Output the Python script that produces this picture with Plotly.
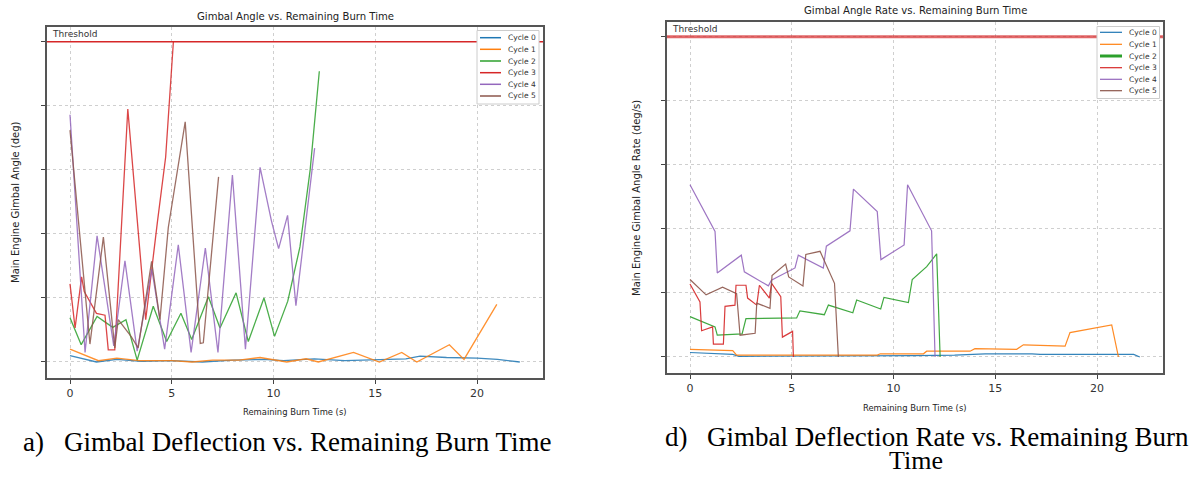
import plotly.graph_objects as go

W, H = 1194, 477

# ---------------- data: left panel (gimbal angle) ----------------
cycles = ["Cycle 0", "Cycle 1", "Cycle 2", "Cycle 3", "Cycle 4", "Cycle 5"]
colors = ["#1f77b4", "#ff7f0e", "#2ca02c", "#d62728", "#9467bd", "#8c564b"]
threshold = 5.0

a_t0 = [0, 1.3, 2.3, 3.5, 5, 6.5, 8, 9.5, 10.5, 12, 13.5, 15, 16.5, 17.2, 18.5, 20, 21, 22.1]
a_v0 = [0.1, 0.0, 0.04, 0.01, 0.02, 0.0, 0.03, 0.04, 0.02, 0.05, 0.02, 0.04, 0.05, 0.09, 0.07, 0.06, 0.04, 0.0]
a_t1 = [0, 1.4, 2.3, 3.4, 5, 6, 7, 8.3, 9.34, 10.65, 11.6, 12.2, 13.93, 15.2, 16.3, 17.04, 18.64, 19.36, 20.97]
a_v1 = [0.2, 0.02, 0.06, 0.02, 0.02, 0.0, 0.03, 0.03, 0.07, 0.0, 0.05, 0.0, 0.15, 0.0, 0.15, 0.0, 0.27, 0.04, 0.9]
a_t2 = [0, 0.55, 1.33, 2.1, 2.75, 3.3, 4.09, 4.75, 5.45, 5.98, 6.8, 7.37, 8.16, 8.76, 9.53, 10.05, 10.7, 11.3, 11.8, 12.25]
a_v2 = [0.69, 0.27, 0.71, 0.54, 0.66, 0.03, 0.87, 0.32, 0.76, 0.35, 1.02, 0.53, 1.08, 0.32, 1.0, 0.4, 0.95, 1.8, 3.0, 4.54]
a_t3 = [0, 0.25, 0.57, 0.7, 1.3, 1.72, 1.88, 2.2, 2.84, 3.35, 3.72, 4.3, 4.7, 5.08]
a_v3 = [1.22, 0.53, 1.33, 1.1, 0.76, 0.73, 0.19, 0.19, 3.95, 2.0, 0.66, 2.2, 3.2, 5.0]
a_t4 = [0, 0.74, 1.33, 2.15, 2.7, 3.3, 4.02, 4.65, 5.32, 5.95, 6.65, 7.27, 7.98, 8.62, 9.34, 9.9, 10.25, 10.69, 11.1, 12.02]
a_v4 = [3.86, 0.15, 1.97, 0.25, 1.58, 0.17, 1.45, 0.2, 1.83, 0.15, 1.78, 0.15, 2.92, 0.2, 3.04, 2.2, 1.77, 2.29, 0.88, 3.34]
a_t5 = [0, 0.98, 1.64, 2.2, 2.37, 3.0, 3.35, 4.01, 4.42, 4.83, 5.66, 6.4, 6.55, 7.3]
a_v5 = [3.62, 0.28, 1.95, 0.22, 0.66, 0.4, 0.22, 1.57, 0.66, 2.1, 3.75, 0.29, 0.3, 2.89]

# ---------------- data: right panel (gimbal angle rate) ----------------
r_t0 = [0, 2.1, 2.4, 5, 8, 11, 13, 14.5, 16.8, 17.2, 19.6, 20, 21.8, 22.1]
r_v0 = [0.07, 0.04, 0.01, 0.01, 0.01, 0.02, 0.03, 0.05, 0.05, 0.04, 0.04, 0.04, 0.04, 0.0]
r_t1 = [0, 2.1, 2.29, 9.2, 9.35, 11.47, 11.63, 13.76, 14.0, 16.05, 16.38, 18.43, 18.67, 20.72, 21.05]
r_v1 = [0.12, 0.1, 0.03, 0.03, 0.05, 0.05, 0.09, 0.09, 0.13, 0.12, 0.19, 0.17, 0.38, 0.5, 0.0]
r_t2 = [0, 1.23, 1.34, 2.56, 2.75, 5.24, 5.4, 6.6, 6.8, 8.0, 8.19, 9.37, 9.53, 10.73, 10.92, 11.63, 12.12, 12.29]
r_v2 = [0.63, 0.47, 0.34, 0.36, 0.6, 0.61, 0.72, 0.66, 0.81, 0.69, 0.89, 0.75, 0.93, 0.85, 1.21, 1.41, 1.61, 0.0]
r_t3 = [0, 0.49, 0.57, 1.11, 1.15, 1.64, 1.72, 2.21, 2.26, 2.75, 2.83, 3.28, 3.41, 3.9, 4.01, 4.46, 4.54, 5.04, 5.08]
r_v3 = [1.14, 0.86, 0.41, 0.47, 0.2, 0.2, 0.79, 0.81, 1.12, 1.12, 0.92, 0.81, 1.12, 0.92, 1.15, 0.94, 0.31, 0.4, 0.0]
r_t4 = [0, 1.23, 1.34, 2.52, 2.67, 3.85, 4.0, 5.16, 5.32, 6.55, 6.7, 7.86, 8.03, 9.2, 9.38, 10.52, 10.69, 11.87, 12.04]
r_v4 = [2.69, 1.96, 1.31, 1.59, 1.33, 1.11, 1.2, 1.39, 1.59, 1.39, 1.73, 1.97, 2.62, 2.27, 1.52, 1.75, 2.69, 1.97, 0.0]
r_t5 = [0, 0.79, 1.6, 2.29, 2.46, 3.2, 3.28, 3.93, 4.03, 4.7, 4.85, 5.55, 5.69, 6.39, 7.1, 7.29]
r_v5 = [1.21, 0.97, 1.09, 0.99, 0.34, 0.37, 0.84, 0.76, 1.27, 1.45, 1.25, 1.11, 1.6, 1.65, 1.15, 0.0]

x_ticks = [0, 5, 10, 15, 20]
y_ticks = [0, 1, 2, 3, 4, 5]

left_series = [(a_t0, a_v0), (a_t1, a_v1), (a_t2, a_v2), (a_t3, a_v3), (a_t4, a_v4), (a_t5, a_v5)]
right_series = [(r_t0, r_v0), (r_t1, r_v1), (r_t2, r_v2), (r_t3, r_v3), (r_t4, r_v4), (r_t5, r_v5)]


def px(x):
    return x / W


def py(y):
    return 1 - y / H


fig = go.Figure()
for i, (t, v) in enumerate(left_series):
    fig.add_trace(go.Scatter(x=t, y=v, mode="lines", name=cycles[i], showlegend=False,
                             line=dict(color=colors[i], width=1.3), opacity=0.85,
                             xaxis="x", yaxis="y"))
for i, (t, v) in enumerate(right_series):
    fig.add_trace(go.Scatter(x=t, y=v, mode="lines", name=cycles[i], showlegend=False,
                             line=dict(color=colors[i], width=1.2), opacity=0.9,
                             xaxis="x2", yaxis="y2"))

axis_common = dict(
    showline=True, mirror=True, linecolor="#555", linewidth=2,
    ticks="outside", ticklen=4, tickcolor="#444",
    showgrid=True, gridcolor="#cfcfcf", griddash="dot", gridwidth=1,
    zeroline=False,
)
xr = [-1.13, 23.24]
yr = [-0.25, 5.23]

fig.update_layout(
    width=W, height=H,
    margin=dict(l=0, r=0, t=0, b=0),
    paper_bgcolor="white", plot_bgcolor="white",
    font=dict(family="DejaVu Sans", color="#333"),
    showlegend=False,
    xaxis=dict(domain=[px(47), px(543)], anchor="y", range=xr, tickvals=x_ticks,
               tickfont=dict(size=11, color="#333"), **axis_common),
    yaxis=dict(domain=[py(378), py(27)], anchor="x", range=yr, tickvals=y_ticks,
               showticklabels=False, **axis_common),
    xaxis2=dict(domain=[px(667), px(1163)], anchor="y2", range=xr, tickvals=x_ticks,
                tickfont=dict(size=11, color="#333"), **axis_common),
    yaxis2=dict(domain=[py(373), py(22)], anchor="x2", range=yr, tickvals=y_ticks,
                showticklabels=False, **axis_common),
)

shapes = []
# threshold lines
shapes.append(dict(type="line", xref="x domain", yref="y", x0=0, x1=1, y0=threshold, y1=threshold,
                   line=dict(color="#d62728", width=1.5)))
shapes.append(dict(type="line", xref="x2 domain", yref="y2", x0=0, x1=1, y0=threshold, y1=threshold,
                   line=dict(color="rgba(214,39,40,0.7)", width=3)))

ann = []


def add_legend(box, lx0, lx1, tx, rows, widths):
    x0, y0, x1, y1 = box
    shapes.append(dict(type="rect", xref="paper", yref="paper",
                       x0=px(x0), x1=px(x1), y0=py(y1), y1=py(y0),
                       fillcolor="white", line=dict(color="#cccccc", width=1), layer="above"))
    for i, ry in enumerate(rows):
        shapes.append(dict(type="line", xref="paper", yref="paper",
                           x0=px(lx0), x1=px(lx1), y0=py(ry), y1=py(ry),
                           line=dict(color=colors[i], width=widths[i]), layer="above"))
        ann.append(dict(text=cycles[i], xref="paper", yref="paper", x=px(tx), y=py(ry),
                        xanchor="left", yanchor="middle", showarrow=False,
                        font=dict(size=7.5, color="#333")))


add_legend((477, 30.5, 539, 104), 480, 501, 506,
           [37.7, 49.3, 61, 72.7, 84.3, 96], [1.5, 1.5, 1.5, 1.5, 1.5, 1.5])
add_legend((1097, 26.5, 1159.5, 98.5), 1100, 1122, 1127,
           [32.3, 44.3, 56, 67.7, 79.3, 90.7], [1.2, 1.2, 3, 1.2, 1.2, 1.2])

ann.append(dict(text="Threshold", xref="x domain", yref="y", x=0.006, y=threshold, yshift=1,
                xanchor="left", yanchor="bottom", showarrow=False, font=dict(size=9, color="#333")))
ann.append(dict(text="Threshold", xref="x2 domain", yref="y2", x=0.006, y=threshold, yshift=1,
                xanchor="left", yanchor="bottom", showarrow=False, font=dict(size=9, color="#333")))
# titles
ann.append(dict(text="Gimbal Angle vs. Remaining Burn Time", xref="paper", yref="paper",
                x=px(295), y=py(16), xanchor="center", yanchor="middle", showarrow=False,
                font=dict(size=10.1, color="#222")))
ann.append(dict(text="Gimbal Angle Rate vs. Remaining Burn Time", xref="paper", yref="paper",
                x=px(915), y=py(10), xanchor="center", yanchor="middle", showarrow=False,
                font=dict(size=10.1, color="#222")))
# axis titles
ann.append(dict(text="Remaining Burn Time (s)", xref="paper", yref="paper",
                x=px(295), y=py(412), xanchor="center", yanchor="middle", showarrow=False,
                font=dict(size=8.4, color="#222")))
ann.append(dict(text="Remaining Burn Time (s)", xref="paper", yref="paper",
                x=px(915), y=py(408), xanchor="center", yanchor="middle", showarrow=False,
                font=dict(size=8.4, color="#222")))
ann.append(dict(text="Main Engine Gimbal Angle (deg)", xref="paper", yref="paper",
                x=px(15), y=py(202), xanchor="center", yanchor="middle", showarrow=False,
                textangle=-90, font=dict(size=10, color="#222")))
ann.append(dict(text="Main Engine Gimbal Angle Rate (deg/s)", xref="paper", yref="paper",
                x=px(636), y=py(198), xanchor="center", yanchor="middle", showarrow=False,
                textangle=-90, font=dict(size=10, color="#222")))
# captions
cap_font = dict(family="Liberation Serif", size=27, color="#000")
ann.append(dict(text="a)", xref="paper", yref="paper", x=px(21), y=py(442),
                xanchor="left", yanchor="middle", showarrow=False, font=cap_font))
ann.append(dict(text="Gimbal Deflection vs. Remaining Burn Time", xref="paper", yref="paper",
                x=px(62), y=py(442), xanchor="left", yanchor="middle", showarrow=False, font=cap_font))
ann.append(dict(text="d)", xref="paper", yref="paper", x=px(663), y=py(437),
                xanchor="left", yanchor="middle", showarrow=False, font=cap_font))
ann.append(dict(text="Gimbal Deflection Rate vs. Remaining Burn", xref="paper", yref="paper",
                x=px(705), y=py(437), xanchor="left", yanchor="middle", showarrow=False, font=cap_font))
ann.append(dict(text="Time", xref="paper", yref="paper", x=px(916), y=py(476.5),
                xanchor="center", yanchor="bottom", showarrow=False,
                font=dict(family="Liberation Serif", size=26, color="#000")))
fig.update_layout(annotations=ann, shapes=shapes)

fig.write_html("out.html", config={"displayModeBar": False},
               post_script="document.body.style.margin='0';document.body.style.overflow='hidden';")
